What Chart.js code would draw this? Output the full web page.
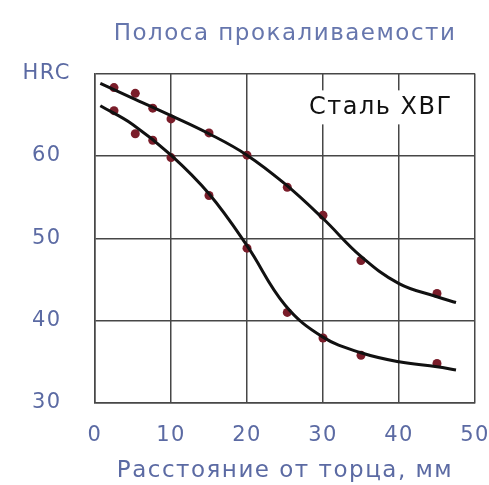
<!DOCTYPE html>
<html>
<head>
<meta charset="utf-8">
<script src="https://cdn.jsdelivr.net/npm/chart.js@4.4.1/dist/chart.umd.min.js"></script>
<style>
  html, body { margin: 0; padding: 0; background: #ffffff; }
  #wrap { width: 489px; height: 485px; }
</style>
</head>
<body>
<div id="wrap"><canvas id="chartProkal"></canvas></div>
<script>

// fitted curves
const upperCurveX = [0.7, 5, 10, 15, 20, 25, 30, 35, 40, 45, 47.5];
const upperCurveY = [68.8, 67.0, 64.9, 62.7, 60.1, 56.6, 52.4, 47.8, 44.5, 42.9, 42.2];

const lowerCurveX = [0.7, 5, 10, 15, 20, 25, 30, 35, 40, 45, 47.5];
const lowerCurveY = [66.1, 63.8, 60.1, 55.4, 49.1, 41.9, 38.0, 36.1, 35.0, 34.4, 34.0];

// measured points
const pointX      = [2.5, 5.3, 7.6, 10, 15, 20, 25.3, 30, 35, 45];
const upperPoints = [68.3, 67.6, 65.8, 64.5, 62.8, 60.1, 56.2, 52.8, 47.3, 43.3];
const lowerPoints = [65.5, 62.7, 61.9, 59.8, 55.2, 48.8, 41.0, 37.9, 35.8, 34.8];

const xTicks = [0, 10, 20, 30, 40, 50];
const yTicks = [30, 40, 50, 60, 70];
const yTickLabels = ['30', '40', '50', '60', 'HRC'];

const chartTitle = 'Полоса прокаливаемости';
const xTitle = 'Расстояние от торца, мм';
const steelLabel = 'Сталь ХВГ';

const fontFamily = '"DejaVu Sans", Verdana, sans-serif';
const textBlue = '#5b6aa3';
const gridColor = '#474747';

function toPoints(xs, ys) {

  return xs.map((x, i) => ({ x: x, y: ys[i] }));
}

const spacingPlugin = {

  id: 'spacing',

  beforeLayout(chart) {

    chart.ctx.letterSpacing = '1.5px';
  },

  beforeDraw(chart) {

    chart.ctx.letterSpacing = '1.5px';
  }
};

const steelLabelPlugin = {

  id: 'steelLabel',

  beforeDatasetsDraw(chart) {

    const ctx = chart.ctx;
    const xs = chart.scales.x;
    const ys = chart.scales.y;

    const cx = xs.getPixelForValue(37.6);
    const cy = ys.getPixelForValue(65.9);

    ctx.save();

    ctx.font = '24px ' + fontFamily;
    ctx.letterSpacing = '1.5px';

    const w = ctx.measureText(steelLabel).width;

    ctx.fillStyle = '#ffffff';
    ctx.fillRect(cx - w / 2 - 6, cy - 17, w + 12, 34);

    ctx.fillStyle = '#111111';
    ctx.textAlign = 'center';
    ctx.textBaseline = 'middle';
    ctx.fillText(steelLabel, cx, cy);

    ctx.restore();
  }
};

const ctx =
  document
    .getElementById('chartProkal')
    .getContext('2d');

const chart = new Chart(ctx, {

  type: 'scatter',

  data: {

    datasets: [

      {
        label: 'points-upper',
        data: toPoints(pointX, upperPoints),
        showLine: false,
        pointRadius: 4.5,
        pointBackgroundColor: '#7a1d2a',
        pointBorderColor: '#7a1d2a',
        pointBorderWidth: 0,
        order: 2
      },

      {
        label: 'points-lower',
        data: toPoints(pointX, lowerPoints),
        showLine: false,
        pointRadius: 4.5,
        pointBackgroundColor: '#7a1d2a',
        pointBorderColor: '#7a1d2a',
        pointBorderWidth: 0,
        order: 2
      },

      {
        label: 'upper',
        data: toPoints(upperCurveX, upperCurveY),
        showLine: true,
        borderColor: '#111111',
        borderWidth: 3,
        pointRadius: 0,
        tension: 0.4,
        order: 1
      },

      {
        label: 'lower',
        data: toPoints(lowerCurveX, lowerCurveY),
        showLine: true,
        borderColor: '#111111',
        borderWidth: 3,
        pointRadius: 0,
        tension: 0.4,
        order: 1
      }
    ]
  },

  options: {

    responsive: true,
    maintainAspectRatio: false,
    animation: false,

    layout: {
      padding: { left: 0, right: 14, top: 0, bottom: 0 }
    },

    plugins: {

      legend: { display: false },
      tooltip: { enabled: false },

      title: {
        display: true,
        fullSize: false,
        text: chartTitle,
        color: '#6676ad',
        font: { family: fontFamily, size: 23, weight: 'normal' },
        padding: { top: 20, bottom: 26 }
      }
    },

    scales: {

      x: {
        type: 'linear',
        min: 0,
        max: 50,
        afterBuildTicks(scale) {
          scale.ticks = xTicks.map(v => ({ value: v }));
        },
        afterFit(scale) {
          scale.height = 82;
          scale.paddingLeft = 0;
          scale.paddingRight = 0;
        },
        grid: {
          color: gridColor,
          lineWidth: 1.5,
          drawTicks: false
        },
        border: { color: gridColor, width: 1.5 },
        ticks: {
          color: textBlue,
          padding: 20,
          maxRotation: 0,
          font: { family: fontFamily, size: 21 }
        },
        title: {
          display: true,
          text: xTitle,
          color: textBlue,
          font: { family: fontFamily, size: 23 },
          padding: { top: 0, bottom: 0 }
        }
      },

      y: {
        type: 'linear',
        min: 30,
        max: 70,
        afterBuildTicks(scale) {
          scale.ticks = yTicks.map(v => ({ value: v }));
        },
        afterFit(scale) {
          scale.width = 95;
        },
        grid: {
          color: gridColor,
          lineWidth: 1.5,
          drawTicks: false
        },
        border: { color: gridColor, width: 1.5 },
        ticks: {
          color: textBlue,
          padding: 24,
          crossAlign: 'center',
          font: { family: fontFamily, size: 21 },
          callback: (v) => {
            const i = yTicks.indexOf(v);
            return i >= 0 ? yTickLabels[i] : '';
          }
        }
      }
    }
  },

  plugins: [spacingPlugin, steelLabelPlugin]
});

</script>
</body>
</html>
